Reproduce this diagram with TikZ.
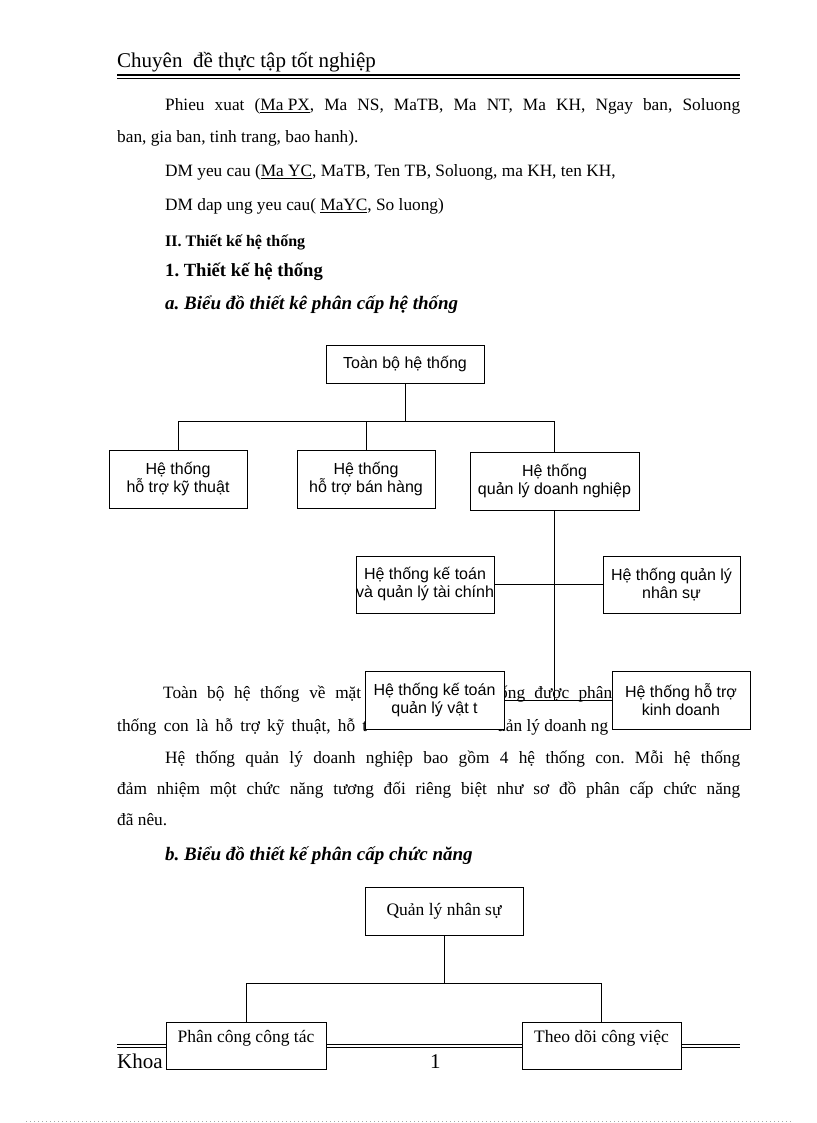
\documentclass[tikz,border=0pt]{standalone}
\usepackage{fontspec}
\setmainfont{Liberation Serif}
\newfontfamily\boxsans{Liberation Sans}
\usetikzlibrary{calc}
\frenchspacing

\newcommand{\bodysize}{\fontsize{17.3}{19}\selectfont}
\newcommand{\headsize}{\fontsize{21}{23}\selectfont}
\newcommand{\sanssize}{\boxsans\fontsize{16}{18}\selectfont}

\begin{document}
\begin{tikzpicture}[x=1pt, y=-1pt]
  \tikzset{
    txt/.style={anchor=base west, inner sep=0pt, font=\bodysize},
    hebox/.style={draw, fill=white, line width=0.9pt, inner sep=0pt, align=center, font=\sanssize},
    cnbox/.style={draw, fill=white, line width=0.9pt, inner sep=0pt, font=\fontsize{17.5}{19}\selectfont},
    link/.style={line width=0.9pt}
  }
  \useasboundingbox[fill=white] (0,0) rectangle (816,1123);
  % ---------- header ----------
  \node[txt, font=\headsize] (title) at (117,68) {Chuyên\ \ đề thực tập tốt nghiệp};
  \draw[line width=2pt] (117,75.5) -- (740,75.5);
  \draw[line width=0.7pt] (117,78.8) -- (740,78.8);
  % ---------- text before the first chart ----------
  \node[txt] (l1) at (165,111) {\makebox[575pt][s]{Phieu xuat (\underline{Ma PX}, Ma NS, MaTB, Ma NT, Ma KH, Ngay ban, Soluong}};
  \node[txt] (l2) at (117,143) {ban, gia ban, tinh trang, bao hanh).};
  \node[txt] (l3) at (165,177) {DM yeu cau (\underline{Ma YC}, MaTB, Ten TB, Soluong, ma KH, ten KH,};
  \node[txt] (l4) at (165,211) {DM dap ung yeu cau( \underline{MaYC}, So luong)};
  \node[txt, font=\bfseries\fontsize{16}{18}\selectfont] (h2) at (165,247) {II. Thiết kế hệ thống};
  \node[txt, font=\bfseries\fontsize{18.6}{20}\selectfont] (h1) at (165,276) {1. Thiết kế hệ thống};
  \node[txt, font=\bfseries\itshape\fontsize{19}{21}\selectfont] (ha) at (165,309) {a. Biểu đồ thiết kê phân cấp hệ thống};
  % ---------- text under the chart (boxes sit on top of it) ----------
  \node[txt] (p1a) at (163,698) {\makebox[198pt][s]{Toàn bộ hệ thống về mặt}};
  \node[txt] (p1b) at (499,698) {\makebox[113pt][s]{ống được phân}};
  \node[txt] (p2a) at (117,731) {\makebox[250pt][s]{thống con là hỗ trợ kỹ thuật, hỗ t}};
  \node[txt] (p2b) at (497,731) {uản lý doanh ng};
  \node[txt] (p3) at (165,763) {\makebox[575pt][s]{Hệ thống quản lý doanh nghiệp bao gồm 4 hệ thống con. Mỗi hệ thống}};
  \node[txt] (p4) at (117,794) {\makebox[623pt][s]{đảm nhiệm một chức năng tương đối riêng biệt như sơ đồ phân cấp chức năng}};
  \node[txt] (p5) at (117,825) {đã nêu.};
  \node[txt, font=\bfseries\itshape\fontsize{19}{21}\selectfont] (hb) at (165,860) {b. Biểu đồ thiết kế phân cấp chức năng};
  % ---------- footer ----------
  \draw[line width=0.8pt] (117,1044.5) -- (740,1044.5);
  \draw[line width=0.8pt] (117,1047.5) -- (740,1047.5);
  \node[txt, font=\headsize] (khoa) at (117,1068) {Khoa};
  \node[txt, font=\headsize] (pg) at (430,1068) {1};
  \draw[black!35, line width=0.6pt, dash pattern=on 1pt off 3pt] (26,1121) -- (791,1121);
  % ---------- chart a: system hierarchy ----------
  \node[hebox, minimum width=158, minimum height=38] (all) at (405,364) {Toàn bộ hệ thống};
  \node[hebox, minimum width=138, minimum height=58] (kt) at (178,479) {Hệ thống\\hỗ trợ kỹ thuật};
  \node[hebox, minimum width=138, minimum height=58] (bh) at (366,479) {Hệ thống\\hỗ trợ bán hàng};
  \node[hebox, minimum width=169, minimum height=58] (dn) at (554.5,481) {Hệ thống\\quản lý doanh nghiệp};
  \node[hebox, minimum width=138, minimum height=57] (tc) at (425,584.5) {Hệ thống kế toán\\và quản lý tài chính};
  \node[hebox, minimum width=137, minimum height=57] (ns) at (671.5,584.5) {Hệ thống quản lý\\nhân sự};
  \node[hebox, minimum width=139, minimum height=58] (vt) at (434.5,700) {Hệ thống kế toán\\quản lý vật t};
  \node[hebox, minimum width=138, minimum height=58] (kd) at (681,700) {Hệ thống hỗ trợ\\kinh doanh};
  \coordinate (bus1) at ($(all.south)+(0,38)$);
  \draw[link] (all.south) -- (bus1);
  \draw[link] (kt.north) |- (bus1);
  \draw[link] (bh.north) |- (bus1);
  \draw[link] (dn.north) |- (bus1);
  \draw[link] (dn.south) -- (dn.south |- vt.east);
  \draw[link] (tc.east) -- (ns.west);
  \draw[link] (vt.east) -- (kd.west);
  % ---------- chart b: function hierarchy ----------
  \node[cnbox, minimum width=158, minimum height=48] (qlns) at (444,911) {Quản lý nhân sự};
  \node[cnbox, minimum width=160, text height=20, text depth=27, anchor=north] (pcct) at (246,1022) {Phân công công tác};
  \node[cnbox, minimum width=159, text height=20, text depth=27, anchor=north] (tdcv) at (601.5,1022) {Theo dõi công việc};
  \coordinate (bus2) at ($(qlns.south)+(0,48)$);
  \draw[link] (qlns.south) -- (bus2);
  \draw[link] (pcct.north) |- (bus2) -| (tdcv.north);
\end{tikzpicture}
\end{document}
